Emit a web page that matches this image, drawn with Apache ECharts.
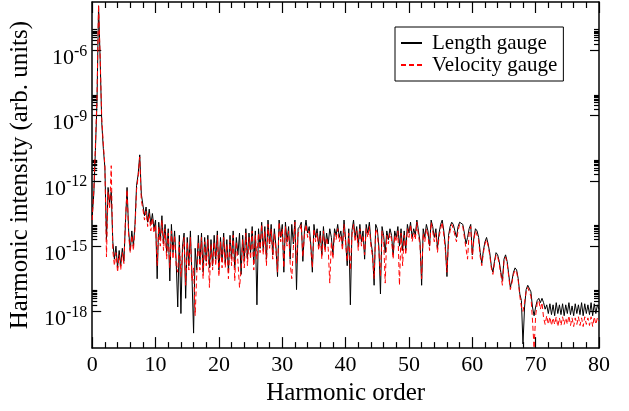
<!DOCTYPE html>
<html>
<head>
<meta charset="utf-8">
<script src="https://cdn.jsdelivr.net/npm/echarts@6/dist/echarts.min.js"></script>
<style>
  html, body { margin: 0; padding: 0; background: #fff; }
  #chart { width: 629px; height: 411px; }
</style>
</head>
<body>
<div id="chart"></div>
<script>
// Harmonic spectra sampled every quarter harmonic, stored as log10(intensity)
const HARMONIC_STEP = 0.25;

const lengthGaugeLog10 = [
  -13.6, -12.6, -10.6, -8.4,
  -3.95, -6.4, -9.3, -10.5,
  -11.4, -14.7, -12.3, -13.0,
  -12.5, -14.8, -15.6, -15.0,
  -16.0, -15.2, -15.9, -15.1,
  -15.7, -13.9, -12.3, -14.3,
  -15.2, -14.3, -15.0, -14.0,
  -12.2, -11.7, -10.8, -12.6,
  -13.1, -13.6, -13.2, -13.9,
  -13.3, -14.0, -13.5, -14.2,
  -13.8, -16.5, -13.9, -14.7,
  -13.6, -14.9, -14.0, -15.3,
  -14.2, -16.6, -14.0, -15.3,
  -14.3, -15.7, -17.8, -14.5,
  -18.1, -15.0, -14.4, -17.4,
  -14.6, -15.9, -14.3, -16.4,
  -19.0, -15.1, -16.1, -14.5,
  -15.8, -14.4, -16.2, -14.6,
  -15.7, -14.5, -16.0, -14.7,
  -15.9, -14.5, -15.6, -14.3,
  -16.1, -14.6, -15.7, -14.4,
  -15.8, -14.7, -16.2, -14.5,
  -15.6, -14.3, -16.0, -14.6,
  -15.4, -14.4, -16.3, -14.5,
  -15.7, -14.2, -15.6, -14.4,
  -15.3, -14.1, -15.8, -14.3,
  -17.7, -14.2, -15.1, -13.9,
  -15.2, -14.1, -15.6, -13.8,
  -14.9, -14.0, -15.4, -14.2,
  -15.0, -16.4, -13.8, -14.6,
  -14.0, -16.2, -13.9, -14.8,
  -14.1, -15.6, -14.0, -14.9,
  -13.8, -17.0, -14.2, -14.1,
  -13.9, -15.7, -14.3, -13.8,
  -14.4, -14.1, -14.9, -16.2,
  -14.0, -14.6, -14.2, -15.0,
  -14.3, -15.4, -14.1, -15.1,
  -14.4, -14.9, -14.2, -14.6,
  -15.4, -14.2, -14.5, -14.0,
  -14.6, -14.3, -15.0, -13.8,
  -14.7, -15.9, -14.2, -17.7,
  -14.3, -13.8, -14.6, -14.1,
  -15.0, -14.0, -14.8, -14.3,
  -15.6, -14.0, -14.4, -13.9,
  -14.8, -15.3, -16.8, -14.0,
  -14.2, -15.0, -17.2, -14.1,
  -14.5, -15.3, -14.3, -14.7,
  -14.2, -14.5, -15.4, -14.3,
  -14.6, -14.1, -15.0, -14.2,
  -15.2, -14.3, -15.2, -14.0,
  -14.4, -13.9, -14.6, -14.2,
  -14.5, -13.8, -14.3, -14.8,
  -16.8, -14.2, -14.6, -14.0,
  -14.3, -15.0, -13.8, -14.1,
  -14.6, -14.2, -15.1, -14.4,
  -14.0, -13.8, -14.3, -15.0,
  -16.4, -14.5, -14.1, -13.9,
  -14.0, -14.3, -14.6, -14.1,
  -13.9, -13.85, -14.0, -14.4,
  -14.9, -14.6, -14.2, -14.0,
  -15.4, -14.6, -14.2, -14.3,
  -14.6, -15.3, -15.8, -15.2,
  -14.8, -14.6, -14.9, -15.3,
  -15.9, -16.2, -15.7, -15.3,
  -15.4, -15.7, -16.2, -16.6,
  -15.6, -15.4, -15.7, -16.3,
  -16.9, -16.6, -16.2, -16.0,
  -16.1, -16.5, -17.2, -17.5,
  -19.5, -17.8, -17.0, -16.8,
  -16.85, -17.1, -17.8, -18.2,
  -17.8, -17.5, -17.4, -17.6,
  -17.4, -17.6, -17.9, -17.7,
  -18.1, -17.65, -18.15, -17.7,
  -18.2, -17.6, -18.1, -17.7,
  -18.15, -17.65, -18.2, -17.7,
  -18.1, -17.6, -18.15, -17.75,
  -18.2, -17.65, -18.1, -17.7,
  -18.15, -17.6, -18.2, -17.65,
  -18.1, -17.7, -18.15, -17.6,
  -18.2, -17.65, -18.1, -17.7,
  -17.9
];

const velocityGaugeLog10 = [
  -13.8, -12.4, -10.4, -8.2,
  -3.9, -6.3, -9.1, -10.3,
  -11.3, -15.5, -12.5, -13.3,
  -11.3, -15.2, -15.9, -15.3,
  -16.2, -15.4, -16.1, -15.3,
  -15.8, -13.7, -12.4, -14.5,
  -15.3, -14.5, -15.2, -14.2,
  -12.4, -11.8, -10.9, -12.9,
  -13.3, -13.8, -13.4, -14.1,
  -13.5, -14.3, -13.7, -14.4,
  -14.0, -15.9, -14.1, -15.0,
  -13.8, -15.2, -14.2, -15.6,
  -14.4, -16.0, -14.3, -15.6,
  -14.5, -15.9, -16.2, -14.8,
  -16.4, -15.3, -14.6, -16.8,
  -14.8, -16.1, -14.6, -16.6,
  -16.0, -18.2, -16.3, -14.8,
  -16.1, -14.6, -16.5, -14.8,
  -15.9, -14.7, -16.9, -14.9,
  -16.1, -14.8, -15.9, -14.5,
  -16.4, -14.8, -16.0, -14.6,
  -16.0, -14.9, -16.5, -14.7,
  -15.9, -14.5, -16.6, -14.8,
  -15.7, -16.9, -16.1, -14.7,
  -16.0, -14.4, -15.9, -14.6,
  -15.6, -14.3, -16.1, -14.5,
  -15.6, -14.4, -15.3, -14.0,
  -15.4, -14.3, -15.9, -14.0,
  -15.1, -14.2, -15.6, -14.4,
  -15.2, -16.2, -13.9, -14.8,
  -14.2, -16.0, -14.1, -15.0,
  -14.3, -15.8, -16.5, -15.1,
  -13.9, -15.8, -14.4, -14.3,
  -14.0, -15.5, -14.5, -14.0,
  -14.6, -14.3, -15.1, -16.0,
  -14.2, -14.8, -14.4, -15.2,
  -14.5, -15.6, -14.3, -15.3,
  -14.6, -15.1, -16.7, -14.8,
  -15.6, -14.4, -14.7, -14.2,
  -14.8, -14.5, -15.2, -14.0,
  -14.9, -15.7, -14.4, -16.1,
  -14.5, -14.0, -14.8, -14.3,
  -15.2, -14.2, -15.0, -14.5,
  -15.4, -14.2, -14.6, -14.1,
  -15.0, -15.5, -16.5, -14.2,
  -14.4, -15.2, -16.4, -14.3,
  -14.7, -16.7, -14.5, -14.9,
  -14.4, -14.7, -15.6, -14.5,
  -14.8, -14.3, -16.8, -14.4,
  -15.9, -14.5, -15.4, -14.2,
  -14.6, -14.0, -14.8, -14.4,
  -14.7, -13.9, -14.5, -15.0,
  -16.5, -14.4, -14.8, -14.2,
  -14.5, -15.2, -13.9, -14.3,
  -14.8, -14.4, -15.3, -14.6,
  -14.2, -13.9, -14.5, -15.2,
  -16.2, -14.7, -14.3, -14.0,
  -14.2, -14.5, -14.8, -14.3,
  -14.0, -13.95, -14.1, -14.6,
  -15.1, -15.6, -14.4, -14.1,
  -15.6, -14.7, -14.3, -14.5,
  -14.7, -15.5, -15.9, -15.3,
  -14.9, -14.7, -15.0, -15.4,
  -16.0, -16.3, -15.8, -15.4,
  -15.5, -15.8, -16.3, -16.8,
  -15.7, -15.5, -15.8, -16.4,
  -17.0, -16.7, -16.3, -16.1,
  -16.2, -16.6, -17.3, -17.8,
  -18.0, -17.6, -17.1, -16.9,
  -16.9, -17.3, -18.4, -19.7,
  -18.2, -17.6, -17.5, -17.9,
  -17.6, -18.3, -18.6, -18.2,
  -18.6, -18.25, -18.65, -18.3,
  -18.6, -18.25, -18.7, -18.3,
  -18.65, -18.25, -18.6, -18.3,
  -18.6, -18.2, -18.65, -18.3,
  -18.7, -18.3, -18.6, -18.25,
  -18.65, -18.3, -18.7, -18.25,
  -18.6, -18.3, -18.65, -18.25,
  -18.7, -18.25, -18.6, -18.3,
  -18.45
];

// Axis ticks (log10 exponents) and x range
const yMajorExponents = [-18, -15, -12, -9, -6];
const yMinorFactors = [2, 3, 4, 5, 6, 7, 8, 9];
const seriesNames = ['Length gauge', 'Velocity gauge'];

const Y_MIN = -19.69, Y_MAX = -3.77;
const FONT = '"Liberation Serif", "Times New Roman", serif';

const harmonicOrder = lengthGaugeLog10.map((_, i) => i * HARMONIC_STEP);
const toPairs = arr => arr.map((v, i) => [harmonicOrder[i], v]);

// xmgrace-style minor ticks: 2..9 times each labelled decade
const yMinorTicks = [];
yMajorExponents.forEach(e => yMinorFactors.forEach(k => yMinorTicks.push(e + Math.log10(k))));

const chart = echarts.init(document.getElementById('chart'), null, { renderer: 'canvas' });

const axisLine = { show: true, lineStyle: { color: '#000', width: 1.5 } };

function xAxisDef(position, withLabels) {
  return {
    type: 'value', position, min: 0, max: 80, interval: 10,
    axisLine, splitLine: { show: false },
    axisTick: { show: true, inside: true, length: 11, lineStyle: { color: '#000', width: 1.2 } },
    minorTick: { show: true, splitNumber: 5, length: 6, lineStyle: { color: '#000', width: 1.2 } },
    minorSplitLine: { show: false },
    axisLabel: { show: withLabels, margin: 6, color: '#000', fontFamily: FONT, fontSize: 22 }
  };
}

function yAxisDef(position, ticks, len, withLabels, showLine) {
  return {
    type: 'value', position, min: Y_MIN, max: Y_MAX,
    axisLine: showLine ? axisLine : { show: false },
    splitLine: { show: false },
    axisTick: { show: true, inside: true, length: len, customValues: ticks,
      lineStyle: { color: '#000', width: 1.2 } },
    axisLabel: {
      show: withLabels, customValues: ticks, margin: 5,
      padding: [12, 0, 0, 0],
      formatter: v => '{b|10}{s|' + Math.round(v) + '}',
      rich: {
        b: { fontFamily: FONT, fontSize: 22, color: '#000', verticalAlign: 'bottom', lineHeight: 26 },
        s: { fontFamily: FONT, fontSize: 16, color: '#000', verticalAlign: 'top', lineHeight: 26 }
      }
    }
  };
}

const yLeft = yAxisDef('left', yMajorExponents, 9, true, true);
yLeft.name = 'Harmonic intensity (arb. units)';
yLeft.nameLocation = 'middle';
yLeft.nameGap = 47;
yLeft.nameTextStyle = { fontFamily: FONT, fontSize: 25, color: '#000' };

const xBottom = xAxisDef('bottom', true);
xBottom.name = 'Harmonic order';
xBottom.nameLocation = 'middle';
xBottom.nameGap = 28;
xBottom.nameTextStyle = { fontFamily: FONT, fontSize: 25, color: '#000' };

chart.setOption({
  animation: false,
  backgroundColor: '#fff',
  grid: { left: 91, right: 30, top: 2, bottom: 54, containLabel: false },
  xAxis: [xBottom, xAxisDef('top', false)],
  yAxis: [
    yLeft,
    yAxisDef('left', yMinorTicks, 5, false, false),
    yAxisDef('right', yMajorExponents, 9, false, true),
    yAxisDef('right', yMinorTicks, 5, false, false)
  ],
  legend: {
    data: seriesNames,
    orient: 'vertical',
    left: 395, top: 27,
    padding: [5, 6, 5, 5],
    itemGap: 0,
    itemWidth: 21, itemHeight: 12,
    itemStyle: { opacity: 0 },
    borderColor: '#000', borderWidth: 1,
    textStyle: { fontFamily: FONT, fontSize: 21, color: '#000', lineHeight: 22, padding: [0, 0, 0, 5] }
  },
  series: [
    {
      name: seriesNames[0], type: 'line', data: toPairs(lengthGaugeLog10),
      showSymbol: false, symbol: 'none',
      lineStyle: { color: '#000', width: 1 }, itemStyle: { color: '#000' }
    },
    {
      name: seriesNames[1], type: 'line', data: toPairs(velocityGaugeLog10),
      showSymbol: false, symbol: 'none',
      lineStyle: { color: '#ff0000', width: 1, type: [5, 3] }, itemStyle: { color: '#ff0000' }
    }
  ]
});
</script>
</body>
</html>
